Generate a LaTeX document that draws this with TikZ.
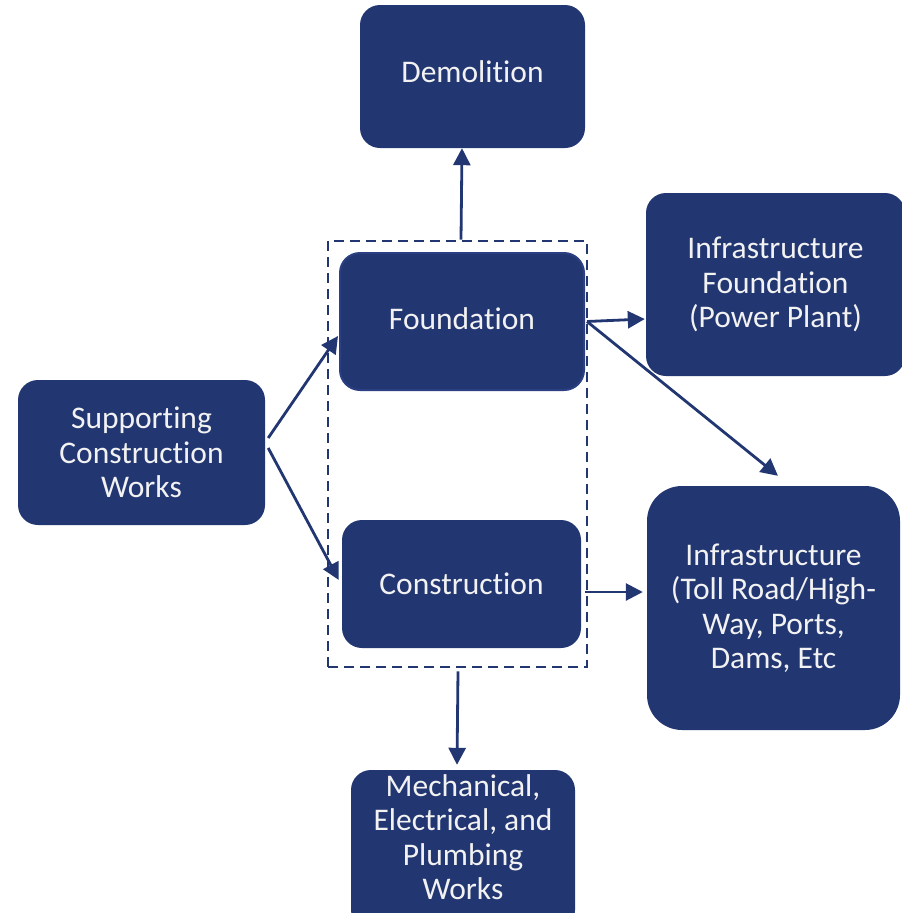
\documentclass[tikz,border=0pt]{standalone}
\usepackage{fontspec}
\setmainfont{Carlito}[Ligatures=NoCommon]
\usetikzlibrary{arrows.meta,calc}
\definecolor{navy}{HTML}{223671}
\definecolor{rim}{HTML}{2B3F82}
\definecolor{txt}{HTML}{F2F2F2}
\begin{document}
\begin{tikzpicture}[x=1pt,y=-1pt,
  box/.style={fill=navy, rounded corners=20pt, text=txt, align=center,
    font=\fontsize{31.5}{34.5}\selectfont, inner sep=0pt},
  arr/.style={draw=navy, line width=2.8pt, -{Triangle[length=17pt,width=17pt]}},
  grp/.style={draw=navy, line width=2.8pt, dash pattern=on 10pt off 6pt, inner sep=0pt}]
\useasboundingbox (0,0) rectangle (902,913);
\node[grp, minimum width=259, minimum height=426] (grp) at (457.5,454) {};
\node[box, minimum width=225, minimum height=143, text depth=10pt] (demo) at (472.5,76.5) {Demolition};
\node[box, minimum width=244, minimum height=137, draw=rim, line width=2pt, text depth=6pt] (found) at (462,321.5) {Foundation};
\node[box, minimum width=259, minimum height=183] (infF) at (775.5,284.5) {Infrastructure\\Foundation\\(Power Plant)};
\node[box, minimum width=247, minimum height=145] (supp) at (141.5,452.5) {Supporting\\Construction\\Works};
\node[box, minimum width=239, minimum height=128] (cons) at (461.5,584) {Construction};
\node[box, minimum width=253, minimum height=244, rounded corners=35pt] (infra) at (773.5,608) {Infrastructure\\(Toll Road/High-\\Way, Ports,\\Dams, Etc};
\node[box, minimum width=224, minimum height=160, text depth=26pt] (mep) at (463,850) {Mechanical,\\Electrical, and\\Plumbing\\Works};
\draw[arr] ($(grp.north)+(3.5,0)$) -- ($(demo.south)+(-10.5,0)$);
\draw[arr] ($(supp.east)+(3,-14.5)$) -- ($(found.west)+(-1,14.5)$);
\draw[arr] ($(supp.east)+(3,-4.5)$) -- ($(cons.west)+(-3,-4)$);
\draw[arr] ($(found.east)+(2,0)$) -- ($(infF.west)+(-1,34.5)$);
\draw[arr] ($(found.east)+(2,0)$) -- ($(infra.north)+(4.5,-10)$);
\draw[arr] ($(cons.east)+(4,8)$) -- ($(infra.west)+(-4,-16)$);
\draw[arr] ($(grp.south)+(0.5,3)$) -- ($(mep.north)+(-6,-5)$);
\end{tikzpicture}
\end{document}
